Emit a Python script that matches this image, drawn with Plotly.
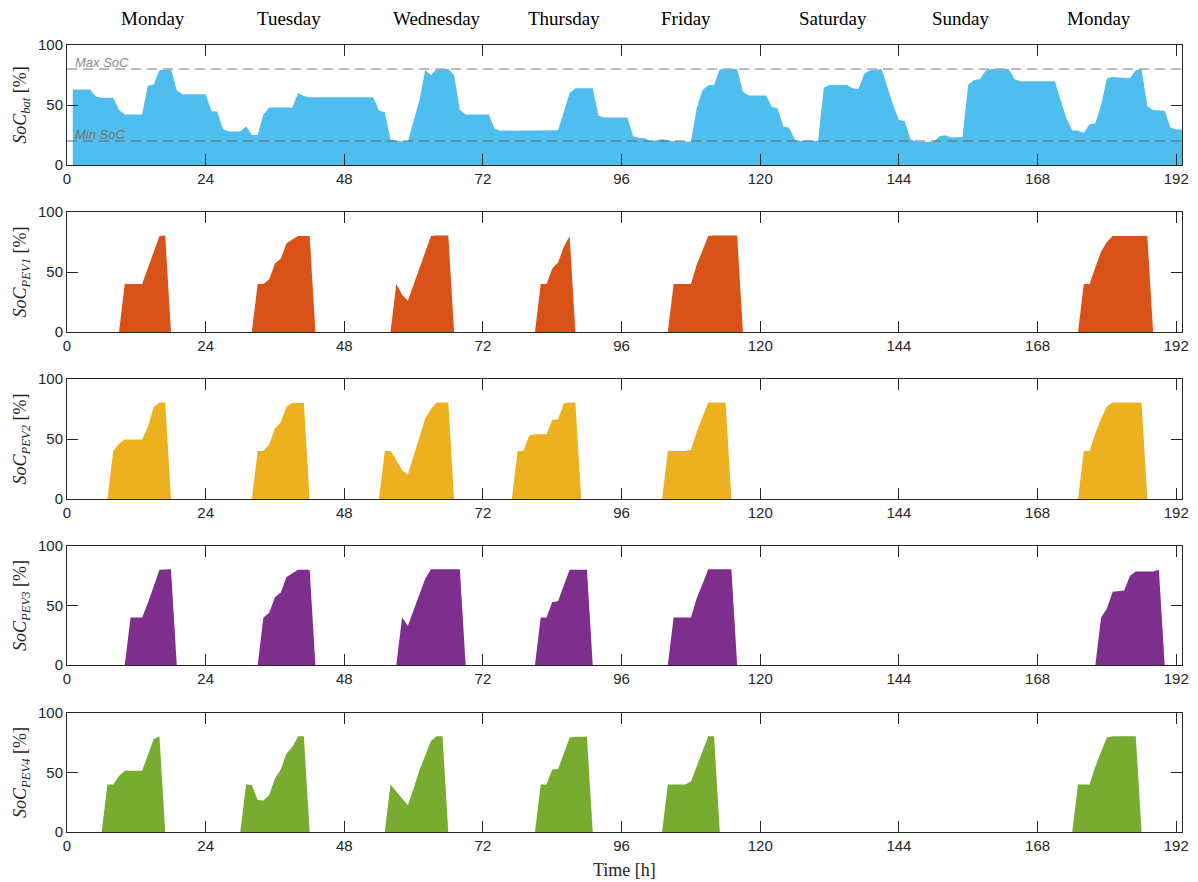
import plotly.graph_objects as go

# ---------------- data ----------------
bat_t = [1, 4, 5, 6, 8, 9, 10, 13, 14, 15, 16, 18, 19, 20, 24, 25, 26, 27, 28, 30, 31, 32, 33, 34, 35, 39,
         40, 41, 42, 53, 54, 55, 56, 57, 59, 60, 61, 62, 63, 64, 66, 67, 68, 69, 73, 74, 75, 85, 86, 87, 88,
         91, 92, 93, 97, 98, 99, 100, 101, 102, 103, 105, 108, 109, 110, 111, 112, 113, 116, 117, 118, 121,
         122, 123, 124, 125, 126, 127, 130, 131, 132, 135, 136, 137, 138, 139, 141, 142, 143, 144, 145, 146,
         147, 150, 151, 152, 153, 155, 156, 157, 158, 159, 160, 163, 164, 165, 171, 172, 173, 174, 175, 176,
         177, 178, 179, 180, 181, 182, 184, 185, 186, 187, 188, 190, 191, 192, 193]
bat_v = [63, 63, 57, 56, 56, 46, 42, 42, 66, 67, 79, 80, 62, 59, 59, 45, 44.5, 29.7, 28, 28, 32, 25, 25, 42, 48, 48,
         60, 57.5, 56.5, 56.5, 45.5, 44, 21, 20, 19.5, 37.5, 54, 79, 75, 80, 80, 75, 46, 42, 42, 30.5, 28.6, 29, 44.4, 60, 64,
         64, 41, 39.5, 39.5, 24, 22.8, 22.3, 19.7, 20.3, 21.4, 19.7, 19.4, 47, 62.5, 66.4, 66.7, 79.7, 80, 61, 58, 58,
         48.6, 47, 32, 31, 20.8, 20.3, 20.3, 64.4, 66.7, 66.7, 64, 63.3, 76, 79, 80, 65, 50, 37.5, 36.7, 21.4,
         19.4, 19.4, 24, 24.7, 23, 23.3, 67, 70.8, 71.4, 78.6, 80, 80, 71.7, 69.7, 69.7, 54, 39, 29, 28.6, 26.7,
         34, 34.7, 50, 72.2, 73.3, 73, 72.5, 79, 80, 49, 45.8, 45.3, 31, 29.7, 29.4]

pev1_t = [1, 9, 10, 13, 16, 17, 18, 32, 33, 34, 35, 36, 37, 38, 39, 40, 42, 43, 56, 57, 58, 59, 63, 64, 66, 67,
          81, 82, 83, 84, 85, 86, 87, 88, 104, 105, 108, 109, 110, 111, 112, 116, 117,
          175, 176, 177, 178, 179, 180, 181, 187, 188, 193]
pev1_v = [0, 0, 40, 40, 80, 80.5, 0, 0, 40, 40, 44, 57, 61, 74, 77, 80, 80, 0, 0, 40, 31, 26, 80, 80.5, 80.5, 0,
          0, 40, 40, 53, 58, 71, 80, 0, 0, 40, 40, 56, 68, 80, 80.5, 80.5, 0,
          0, 40, 40, 54, 67, 75, 80, 80, 0, 0]

pev2_t = [1, 7, 8, 9, 10, 13, 14, 15, 16, 17, 18, 32, 33, 34, 35, 36, 37, 38, 39, 41, 42,
          54, 55, 56, 57, 58, 59, 60, 61, 62, 63, 64, 66, 67,
          77, 78, 79, 80, 81, 83, 84, 85, 86, 87, 88, 89,
          103, 104, 107, 108, 109, 110, 111, 114, 115,
          175, 176, 177, 178, 179, 180, 181, 186, 187, 193]
pev2_v = [0, 0, 40, 46, 49.5, 49.5, 60, 76.5, 80.5, 80.5, 0, 0, 40, 40, 45.5, 59, 64, 77, 80, 80, 0,
          0, 40, 40, 32.5, 24, 20.5, 36, 52, 67, 75, 80.5, 80.5, 0,
          0, 40, 40, 53, 54, 54, 66, 66.5, 79.5, 80.5, 80.5, 0,
          0, 40, 40, 41, 56, 68.5, 80.5, 80.5, 0,
          0, 40, 40, 54.5, 67, 77, 80.5, 80.5, 0, 0]

pev3_t = [1, 10, 11, 13, 14, 15, 16, 18, 19, 33, 34, 35, 36, 37, 38, 39, 40, 42, 43,
          57, 58, 59, 60, 61, 62, 63, 68, 69,
          81, 82, 83, 84, 85, 86, 87, 90, 91,
          104, 105, 108, 109, 110, 111, 115, 116,
          178, 179, 180, 181, 183, 184, 185, 188, 189, 190, 193]
pev3_v = [0, 0, 40, 40, 52, 66, 80, 80.5, 0, 0, 40, 44, 57, 61, 74, 77, 80, 80, 0,
          0, 40, 33, 46, 59, 72.5, 80.5, 80.5, 0,
          0, 40, 40, 53, 53.5, 67, 80, 80, 0,
          0, 40, 40, 56, 68, 80.5, 80.5, 0,
          0, 40, 47.5, 61.5, 62.5, 75, 78.5, 78.5, 80, 0, 0]

pev4_t = [1, 6, 7, 8, 9, 10, 13, 14, 15, 16, 17,
          30, 31, 32, 33, 34, 35, 36, 37, 38, 39, 40, 41, 42,
          55, 56, 57, 58, 59, 60, 61, 62, 63, 64, 65, 66,
          81, 82, 83, 84, 85, 86, 87, 88, 90, 91,
          103, 104, 107, 108, 109, 110, 111, 112, 113,
          174, 175, 177, 178, 179, 180, 181, 185, 186, 193]
pev4_v = [0, 0, 40, 40, 47, 51.5, 51.5, 64.5, 78, 80.5, 0,
          0, 40, 39.5, 27, 26.5, 31, 45, 52.5, 66, 71.5, 80.5, 80.5, 0,
          0, 40, 34, 27.5, 22.5, 36.5, 52, 64, 76.5, 80.5, 80.5, 0,
          0, 40, 40, 52.5, 53, 66, 79.5, 80, 80, 0,
          0, 40, 40, 42.5, 55.5, 68, 80.5, 80.5, 0,
          0, 40, 40, 55, 67.5, 79.5, 80.5, 80.5, 0, 0]

max_soc = 80
min_soc = 20

day_names = ["Monday", "Tuesday", "Wednesday", "Thursday", "Friday", "Saturday", "Sunday", "Monday"]
day_pos = [14.8, 38.4, 64.0, 86.1, 107.2, 132.6, 154.8, 178.6]

x_ticks = [0, 24, 48, 72, 96, 120, 144, 168, 192]
y_ticks = [0, 50, 100]

# ---------------- figure ----------------
series = [
    (bat_t, bat_v, "#4DBEEE", "<i>SoC</i><sub><i>bat</i></sub> [%]"),
    (pev1_t, pev1_v, "#D95319", "<i>SoC</i><sub><i>PEV1</i></sub> [%]"),
    (pev2_t, pev2_v, "#EDB120", "<i>SoC</i><sub><i>PEV2</i></sub> [%]"),
    (pev3_t, pev3_v, "#7E2F8E", "<i>SoC</i><sub><i>PEV3</i></sub> [%]"),
    (pev4_t, pev4_v, "#77AC30", "<i>SoC</i><sub><i>PEV4</i></sub> [%]"),
]

domains = [(0.8475, 1.0), (0.6353, 0.7878), (0.4231, 0.5756), (0.2122, 0.3634), (0.0, 0.1512)]

fig = go.Figure()
axis_color = "#262626"
tick_font = dict(family="Liberation Sans, Arial, sans-serif", size=15, color=axis_color)
serif = "Liberation Serif, Times New Roman, serif"

for i, (t, v, col, title) in enumerate(series):
    n = i + 1
    xa = "x" if n == 1 else f"x{n}"
    ya = "y" if n == 1 else f"y{n}"
    fig.add_trace(go.Scatter(x=t, y=v, mode="lines", fill="tozeroy", fillcolor=col,
                             line=dict(width=0, color=col), xaxis=xa, yaxis=ya,
                             showlegend=False, hoverinfo="skip"))
    xkey = "xaxis" if n == 1 else f"xaxis{n}"
    ykey = "yaxis" if n == 1 else f"yaxis{n}"
    fig.layout[xkey] = dict(domain=[0, 1], anchor=ya, range=[0, 193], tickvals=x_ticks,
                            ticks="inside", ticklen=11, tickcolor=axis_color, showline=True,
                            linecolor=axis_color, linewidth=1, mirror="ticks", showgrid=False,
                            zeroline=False, tickfont=tick_font, automargin=False)
    fig.layout[ykey] = dict(domain=list(domains[i]), anchor=xa, range=[0, 100], tickvals=y_ticks,
                            ticks="inside", ticklen=11, tickcolor=axis_color, showline=True,
                            linecolor=axis_color, linewidth=1, mirror="ticks", showgrid=False,
                            zeroline=False, tickfont=tick_font, automargin=False,
                            title=dict(text=title, font=dict(family=serif, size=18, color=axis_color),
                                       standoff=6))

# Max / Min SoC lines on the battery panel
fig.add_trace(go.Scatter(x=[0, 193], y=[max_soc, max_soc], mode="lines",
                         line=dict(color="#a6a6a6", width=1.5, dash="10px,6px"),
                         xaxis="x", yaxis="y", showlegend=False, hoverinfo="skip"))
fig.add_trace(go.Scatter(x=[0, 193], y=[min_soc, min_soc], mode="lines",
                         line=dict(color="#666666", width=1.2, dash="10px,6px"),
                         xaxis="x", yaxis="y", showlegend=False, hoverinfo="skip"))

annotations = [
    dict(x=1, y=max_soc, xref="x", yref="y", text="<i>Max SoC</i>", showarrow=False,
         xanchor="left", yanchor="bottom", yshift=-3,
         font=dict(family="Liberation Sans, Arial, sans-serif", size=13, color="#8c8c8c")),
    dict(x=1, y=min_soc, xref="x", yref="y", text="<i>Min SoC</i>", showarrow=False,
         xanchor="left", yanchor="bottom", yshift=-3,
         font=dict(family="Liberation Sans, Arial, sans-serif", size=13, color="#737373")),
    dict(x=0.5, y=-0.048, xref="paper", yref="paper", text="Time [h]", showarrow=False,
         xanchor="center", yanchor="middle",
         font=dict(family=serif, size=18, color=axis_color)),
]
for name, pos in zip(day_names, day_pos):
    annotations.append(dict(x=pos, y=1.0343, xref="x", yref="paper", text=name, showarrow=False,
                            xanchor="center", yanchor="middle",
                            font=dict(family=serif, size=19, color="#000000")))

# the page body adds an 8 px offset, so the figure is sized to fit the 1198x882 window
fig.update_layout(width=1182, height=874, margin=dict(l=59, r=8, t=37, b=50),
                  paper_bgcolor="white", plot_bgcolor="white", annotations=annotations)

fig.write_html("out.html")
